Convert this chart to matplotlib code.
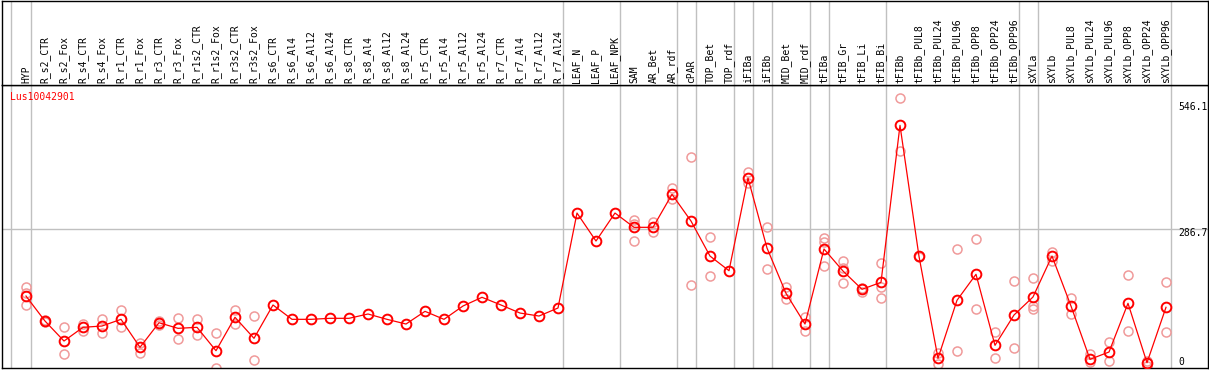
import matplotlib
matplotlib.use("Agg")
import matplotlib.pyplot as plt
import matplotlib.transforms as mtransforms

GENE = "Lus10042901"

categories = [
    "HYP", "R_s2_CTR", "R_s2_Fox", "R_s4_CTR", "R_s4_Fox", "R_r1_CTR",
    "R_r1_Fox", "R_r3_CTR", "R_r3_Fox", "R_r1s2_CTR", "R_r1s2_Fox",
    "R_r3s2_CTR", "R_r3s2_Fox", "R_s6_CTR", "R_s6_Al4", "R_s6_Al12",
    "R_s6_Al24", "R_s8_CTR", "R_s8_Al4", "R_s8_Al12", "R_s8_Al24",
    "R_r5_CTR", "R_r5_Al4", "R_r5_Al12", "R_r5_Al24", "R_r7_CTR",
    "R_r7_Al4", "R_r7_Al12", "R_r7_Al24", "LEAF_N", "LEAF_P", "LEAF_NPK",
    "SAM", "AR_Bet", "AR_rdf", "cPAR", "TOP_Bet", "TOP_rdf", "iFIBa",
    "iFIBb", "MID_Bet", "MID_rdf", "tFIBa", "tFIB_Gr", "tFIB_Li",
    "tFIB_Bi", "tFIBb", "tFIBb_PUL8", "tFIBb_PUL24", "tFIBb_PUL96",
    "tFIBb_OPP8", "tFIBb_OPP24", "tFIBb_OPP96", "sXYLa", "sXYLb",
    "sXYLb_PUL8", "sXYLb_PUL24", "sXYLb_PUL96", "sXYLb_OPP8",
    "sXYLb_OPP24", "sXYLb_OPP96",
]

means = [
    147.6, 96.0, 54.7, 83.0, 85.7, 99.5, 41.7, 92.5, 80.9, 83.0, 34.7,
    103.7, 60.3, 129.1, 99.5, 99.5, 101.6, 101.6, 110.5, 99.5, 89.8,
    116.0, 99.5, 127.0, 145.0, 129.1, 112.5, 106.3, 122.9, 319.0, 261.2,
    319.0, 289.5, 289.5, 357.6, 302.5, 230.2, 199.9, 391.3, 246.8, 153.2,
    89.8, 244.7, 199.3, 161.5, 175.9, 500.1, 229.6, 19.0, 138.8, 192.5,
    45.8, 108.4, 145.6, 230.2, 127.0, 16.9, 32.0, 132.6, 9.9, 124.3,
]

replicates = [
    [165.6, 153.8, 129.1], [98.1, 94.0], [83.0, 27.9], [89.8, 76.0],
    [99.5, 70.6], [118.1, 83.0], [51.2, 30.6], [96.0, 87.8],
    [102.8, 59.5], [100.2, 66.5], [70.6, 0.0], [118.1, 89.8],
    [105.7, 15.5], [], [], [], [], [], [], [], [], [], [], [], [], [],
    [], [], [], [], [], [],
    [304.6, 297.0, 261.2], [299.8, 280.4], [370.0, 347.3],
    [434.1, 169.7], [268.9, 188.9], [], [403.7, 380.4], [289.5, 202.8],
    [166.9, 142.1], [104.9, 74.8], [268.0, 259.8, 209.6],
    [219.3, 205.0, 173.9], [164.8, 156.5], [215.2, 166.9, 142.9],
    [555.9, 446.5], [231.0, 228.5], [30.6, 6.6], [244.1, 34.1],
    [265.4, 120.8], [73.3, 19.0], [178.6, 39.6],
    [184.8, 127.6, 120.2], [237.9, 220.5], [144.1, 109.9], [27.3, 10.7],
    [52.7, 12.8], [190.4, 74.8], [14.0, 3.1], [175.9, 72.7],
]

# last sample of each tissue group (a grey separator follows it)
group_ends = [
    "HYP", "R_r7_Al24", "LEAF_NPK", "AR_rdf", "cPAR", "TOP_rdf", "iFIBa",
    "iFIBb", "MID_rdf", "tFIBa", "tFIB_Bi", "tFIBb_OPP96", "sXYLa",
    "sXYLb_OPP96",
]

y_labels = [546.1, 286.7, 0]

W, H = 1209, 370
FONT = "DejaVu Sans Mono"
GREY = "#c0c0c0"
RED = "#ff0000"
PINK = "#f09a9a"


def px(x0, y0, x1, y1):
    """Figure rect [l, b, w, h] from pixel box (origin top-left)"""
    return [x0 / W, 1 - y1 / H, (x1 - x0) / W, (y1 - y0) / H]


def draw_chart():
    fig = plt.figure(figsize=(W / 100, H / 100), dpi=100)
    ax = fig.add_axes(px(1.5, 85, 1208, 368))
    head = fig.add_axes(px(1.5, 0.5, 1208, 85), sharex=ax)

    n = len(categories)
    xs = list(range(n))
    xmin = -1.289
    ax.set_xlim(xmin, xmin + 1206.5 / 19)
    ax.set_ylim(-1, 583.4)
    head.set_ylim(0, 1)

    # separators
    sep = [-0.8] + [categories.index(c) + 0.25 for c in group_ends]
    for a in (ax, head):
        for s in sep:
            a.axvline(s, color=GREY, lw=1.0, zorder=0)
        a.set_xticks([])
        a.set_yticks([])
        for sp in a.spines.values():
            sp.set_linewidth(1.0)
            sp.set_color("black")
    ax.axhline(286.7, color=GREY, lw=1.0, zorder=0)

    # replicate points
    rx, ry = [], []
    for i, reps in enumerate(replicates):
        for v in reps:
            rx.append(i)
            ry.append(v)
    ax.plot(rx, ry, linestyle="none", marker="o", ms=6.5, mfc="none",
            mec=PINK, mew=1.1, zorder=2, clip_on=True)

    # mean profile
    ax.plot(xs, means, color=RED, lw=0.9, marker="o", ms=7, mfc="none",
            mec=RED, mew=1.4, zorder=3)

    # sample labels
    for i, c in enumerate(categories):
        head.text(i, 0.025, c, rotation=90, ha="center", va="bottom",
                  fontsize=7, family=FONT, color="black")

    # value labels on the right
    trans = mtransforms.blended_transform_factory(ax.transAxes, ax.transData)
    for v in y_labels:
        off = -4 if v > 0 else 6
        ax.annotate(f"{v:g}", xy=(0.9751, v), xycoords=trans,
                    xytext=(0, off), textcoords="offset pixels",
                    ha="left", va="center", fontsize=7, family=FONT)

    ax.text(0.007, 0.9565, GENE, transform=ax.transAxes, color=RED,
            fontsize=7, family=FONT, ha="left", va="center")

    fig.savefig("out.png", dpi=100, facecolor="white")


if __name__ == "__main__":
    draw_chart()
